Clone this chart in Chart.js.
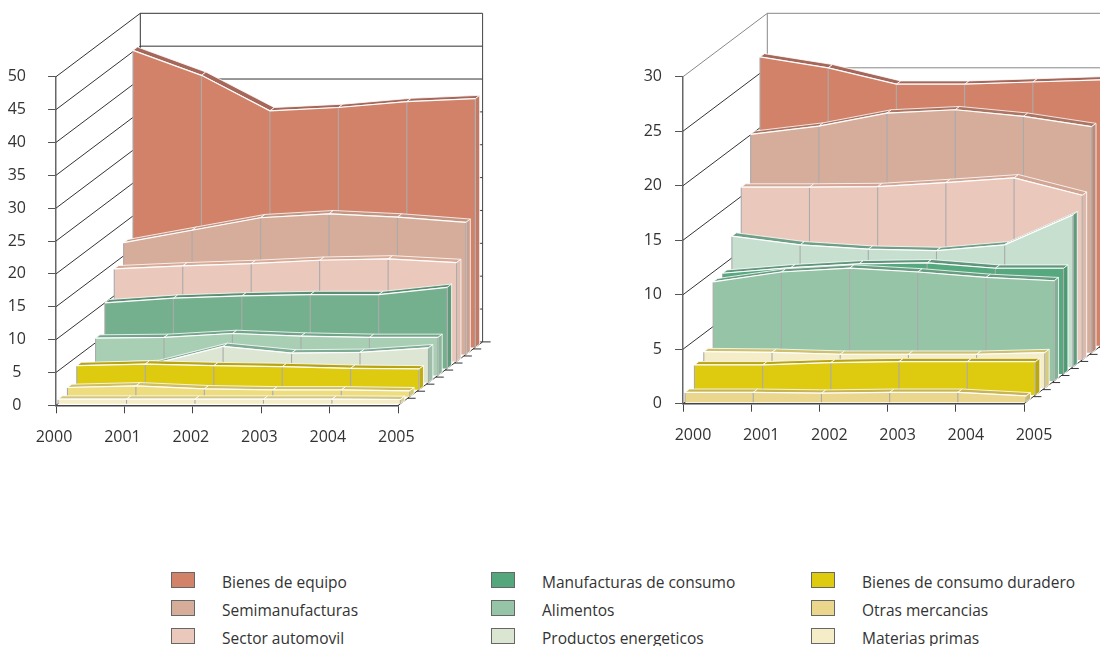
<!DOCTYPE html>
<html><head><meta charset="utf-8">
<script src="https://cdn.jsdelivr.net/npm/chart.js@4"></script>
<style>
html,body{margin:0;padding:0;background:#fff;width:1100px;height:646px;overflow:hidden}
canvas{position:absolute;top:0}
#wrapL{position:absolute;left:0;top:0;width:560px;height:470px}
#wrapR{position:absolute;left:627px;top:0;width:520px;height:470px}
.lg{position:absolute;font:15.5px "Open Sans",sans-serif;color:#333;white-space:nowrap;line-height:20px}
.bx{position:absolute;width:22px;height:14px;border:1px solid #666}
</style></head><body>
<div id="wrapL"><canvas id="cL" width="560" height="470"></canvas></div>
<div id="wrapR"><canvas id="cR" width="520" height="470"></canvas></div>
<div id="legend"></div>
<script>
const years=['2000','2001','2002','2003','2004','2005'];
const names=['Bienes de equipo','Semimanufacturas','Sector automovil','Manufacturas de consumo','Alimentos','Productos energeticos','Bienes de consumo duradero','Otras mercancias','Materias primas'];
const legendColors=['#d3826a','#d5ad9a','#eac9bc','#54a77c','#96c4a7','#dbe6d2','#decb10','#ead68c','#f5edc8'];

// Left chart values
const leftEquipo=[45.2,41.4,36,36.5,37.4,37.85];
const leftSemi=[17,18.9,20.8,21.4,20.9,20.1];
const leftAuto=[14.1,14.55,14.9,15.4,15.6,15.05];
const leftManuf=[10,10.7,11.05,11.25,11.25,12.35];
const leftAlim=[5.7,5.8,6.4,6,5.8,5.8];
const leftEnerg=[2.5,2.9,5.5,4.5,4.6,5.3];
const leftDurad=[3.65,3.9,3.65,3.5,3.25,3.15];
const leftOtras=[1.4,1.65,1.2,1.03,1.03,0.9];
const leftMaterias=[0.7,0.7,0.7,0.7,0.7,0.65];
// Right chart values
const rightEquipo=[26.5,25.5,24,24,24.2,24.4];
const rightSemi=[20.05,20.8,22,22.3,21.7,20.75];
const rightAuto=[15.85,15.85,15.9,16.27,16.7,15.1];
const rightEnerg=[12,11.2,10.8,10.67,11.2,13.95];
const rightManuf=[9.24,9.75,10.1,10.2,9.7,9.7];
const rightAlim=[9.1,10,10.35,10,9.5,9.2];
const rightMaterias=[3.34,3.28,3.1,3.1,3.1,3.25];
const rightDurad=[2.77,2.77,2.98,3.07,3.07,3.07];
const rightOtras=[0.9,0.9,0.82,0.9,0.9,0.57];

const leftSeries=[ // back to front
 [names[0],leftEquipo,'#d3826a','#a5675a','#c27a64'],
 [names[1],leftSemi,'#d5ad9a','#c39583','#c9a08e'],
 [names[2],leftAuto,'#eac9bc','#d8a995','#e0bdb0'],
 [names[3],leftManuf,'#74b08d','#5a8f74','#5f9a7b'],
 [names[4],leftAlim,'#a8ceb4','#72a58b','#8db69d'],
 [names[5],leftEnerg,'#dce6d3','#7dab94','#9dbfa9'],
 [names[6],leftDurad,'#decb10','#b8a410','#c0ae10'],
 [names[7],leftOtras,'#eedd7e','#cfbf60','#d8c868'],
 [names[8],leftMaterias,'#f5edc8','#d2c67c','#dcd090']
];
const rightSeries=[
 [names[0],rightEquipo,'#d3826a','#a5675a','#bd7462'],
 [names[1],rightSemi,'#d5ad9a','#ab7563','#b98c7a'],
 [names[2],rightAuto,'#eac9bc','#d3a594','#dcb9ab'],
 [names[5],rightEnerg,'#c6dfcf','#6f9f86','#5f9b7e'],
 [names[3],rightManuf,'#56a87e','#5f957a','#4c9a72'],
 [names[4],rightAlim,'#96c4a7','#6a9c82','#83b096'],
 [names[8],rightMaterias,'#f5edc8','#cfc06c','#d9cb7c'],
 [names[6],rightDurad,'#decb10','#b8a410','#baa80e'],
 [names[7],rightOtras,'#ead68c','#c8b450','#c9b866']
];

const BACK_DX=84.3, BACK_DY=63.4, SLOTS=9, BAND_DX=4.4, BAND_DY=3.3, LEAD=0.22;

function band(ctx,pts,base,ds){
  const n=pts.length, W='#fff';
  ctx.lineJoin='round';
  // top ribbons
  for(let k=0;k<n-1;k++){
    const a=pts[k],b=pts[k+1];
    ctx.beginPath();ctx.moveTo(a.x,a.y);ctx.lineTo(b.x,b.y);
    ctx.lineTo(b.x+BAND_DX,b.y-BAND_DY);ctx.lineTo(a.x+BAND_DX,a.y-BAND_DY);ctx.closePath();
    ctx.fillStyle=ds.ribbon;ctx.fill();
    ctx.strokeStyle=W;ctx.lineWidth=0.8;ctx.stroke();
  }
  // right side
  const l=pts[n-1];
  ctx.beginPath();ctx.moveTo(l.x,l.y);ctx.lineTo(l.x+BAND_DX,l.y-BAND_DY);
  ctx.lineTo(l.x+BAND_DX,base-BAND_DY);ctx.lineTo(l.x,base);ctx.closePath();
  ctx.fillStyle=ds.side;ctx.fill();
  ctx.strokeStyle=W;ctx.lineWidth=0.8;ctx.stroke();
  // face
  ctx.beginPath();ctx.moveTo(pts[0].x,base);
  pts.forEach(p=>ctx.lineTo(p.x,p.y));
  ctx.lineTo(l.x,base);ctx.closePath();
  ctx.fillStyle=ds.face;ctx.fill();
  // separators
  ctx.strokeStyle='#ababab';ctx.lineWidth=1.1;
  pts.forEach(p=>{ctx.beginPath();ctx.moveTo(p.x,p.y+0.5);ctx.lineTo(p.x,base);ctx.stroke();});
}

function makePlugin(wallColor){
 return {
  id:'depth',
  beforeDatasetsDraw(chart){
    const {ctx,scales:{x,y}}=chart;
    const x0=x.getPixelForValue(0), x1=x.getPixelForValue(years.length-1);
    const y0=y.getPixelForValue(0);
    const top=y.getPixelForValue(y.max);
    ctx.save();ctx.lineWidth=1;
    y.ticks.forEach(t=>{
      const py=y.getPixelForValue(t.value);
      const isTop=t.value===y.max;
      ctx.strokeStyle=isTop?wallColor:'#333';
      ctx.beginPath();ctx.moveTo(x0,py);ctx.lineTo(x0+BACK_DX,py-BACK_DY);ctx.stroke();
      ctx.strokeStyle=wallColor;
      ctx.beginPath();ctx.moveTo(x0+BACK_DX,py-BACK_DY);ctx.lineTo(x1+BACK_DX,py-BACK_DY);ctx.stroke();
    });
    ctx.strokeStyle=wallColor;
    ctx.beginPath();ctx.moveTo(x0+BACK_DX,top-BACK_DY);ctx.lineTo(x0+BACK_DX,y0-BACK_DY);ctx.stroke();
    ctx.strokeStyle='#444';
    ctx.beginPath();ctx.moveTo(x1+BACK_DX,top-BACK_DY);ctx.lineTo(x1+BACK_DX,y0-BACK_DY);ctx.stroke();
    ctx.strokeStyle='#333';
    ctx.beginPath();ctx.moveTo(x1,y0);ctx.lineTo(x1+BACK_DX,y0-BACK_DY);ctx.stroke();
    for(let j=1;j<=SLOTS;j++){
      const fx=x1+j*BACK_DX/SLOTS, fy=y0-j*BACK_DY/SLOTS;
      ctx.beginPath();ctx.moveTo(fx,fy);ctx.lineTo(fx+8,fy);ctx.stroke();
    }
    ctx.restore();
  },
  beforeDatasetDraw(chart,args){
    const {ctx,scales:{y}}=chart;
    const ds=chart.data.datasets[args.index];
    const meta=args.meta;
    ctx.save();
    ctx.translate((ds.order+LEAD)*BACK_DX/SLOTS,-(ds.order+LEAD)*BACK_DY/SLOTS);
    band(ctx,meta.data,y.getPixelForValue(0),ds);
  },
  afterDatasetDraw(chart){chart.ctx.restore();}
 };
}

function build(id,series,yMax,opts){
  const count=series.length;
  new Chart(document.getElementById(id),{
    type:'line',
    data:{labels:years,datasets:series.map((s,i)=>({
      label:s[0],data:s[1],face:s[2],ribbon:s[3],side:s[4],
      backgroundColor:s[2],borderColor:'#fff',borderWidth:1.2,pointRadius:0,tension:0,fill:false,
      order:count-1-i,clip:false
    }))},
    plugins:[makePlugin(opts.wall)],
    options:{
      responsive:false,animation:false,
      layout:{padding:{left:0,right:opts.right,top:opts.top,bottom:0}},
      plugins:{legend:{display:false},tooltip:{enabled:false}},
      scales:{
        x:{type:'category',offset:false,
          afterFit(s){s.height=opts.xh;},
          border:{color:'#444',width:1.5},
          grid:{drawOnChartArea:false,drawTicks:true,tickLength:8,color:'#444'},
          ticks:{padding:opts.xPad,labelOffset:opts.xShift,maxRotation:0,autoSkip:false,color:'#333',font:{family:'"Open Sans"',size:16}}},
        y:{type:'linear',min:0,max:yMax,
          afterFit(s){s.width=56;},
          border:{color:'#666',width:1.5},
          grid:{drawOnChartArea:false,drawTicks:true,tickLength:8,color:'#555'},
          ticks:{stepSize:5,padding:opts.yPad,crossAlign:opts.yAlign,color:'#333',font:{family:'"Open Sans"',size:16}}}
      }
    }
  });
}
build('cL',leftSeries,50,{right:161.7,top:76.7,xh:64.7,wall:'#333',xPad:15,xShift:-2,yPad:22,yAlign:'center'});
build('cR',rightSeries,30,{right:123,top:76.7,xh:66.3,wall:'#888',xPad:14,xShift:10,yPad:13,yAlign:'near'});

const lg=document.getElementById('legend');
const colX=[171,491,811], rowY=[572,600,628];
names.forEach((n,i)=>{
  const c=Math.floor(i/3), r=i%3;
  const b=document.createElement('div');b.className='bx';
  b.style.cssText=`left:${colX[c]}px;top:${rowY[r]}px;background:${legendColors[i]}`;
  const t=document.createElement('div');t.className='lg';t.textContent=n;
  t.style.left=(colX[c]+51)+'px';t.style.top=rowY[r]+'px';
  lg.appendChild(b);lg.appendChild(t);
});
</script>
</body></html>
